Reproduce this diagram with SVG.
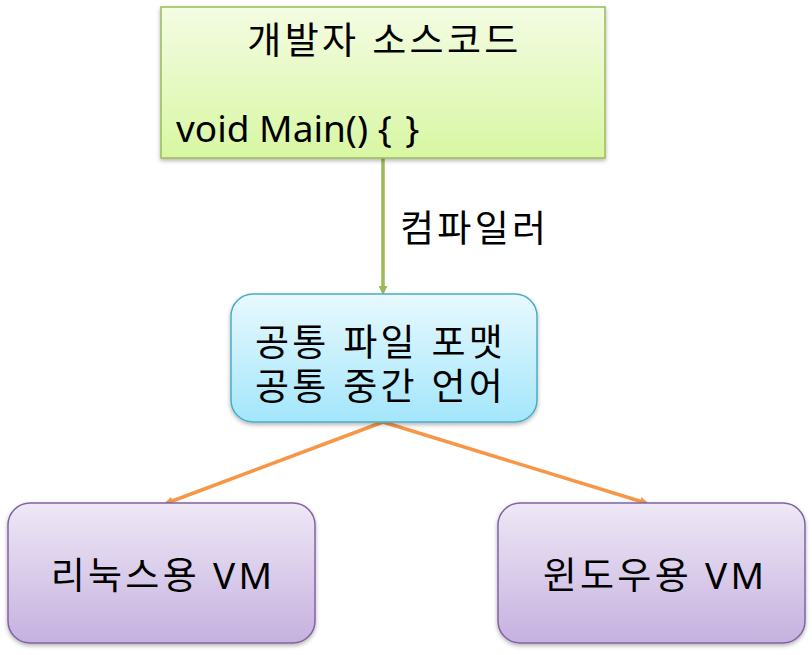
<svg xmlns="http://www.w3.org/2000/svg" width="812" height="655" viewBox="0 0 812 655">
<defs>
<linearGradient id="gGreen" x1="0" y1="0" x2="0" y2="1"><stop offset="0" stop-color="#f4fce3"/><stop offset="1" stop-color="#d8f7a3"/></linearGradient>
<linearGradient id="gBlue" x1="0" y1="0" x2="0" y2="1"><stop offset="0" stop-color="#e8f9fe"/><stop offset="1" stop-color="#a3e6fb"/></linearGradient>
<linearGradient id="gPurple" x1="0" y1="0" x2="0" y2="1"><stop offset="0" stop-color="#eee8f6"/><stop offset="1" stop-color="#c6b1df"/></linearGradient>
<filter id="sh" x="-10%" y="-10%" width="120%" height="130%"><feDropShadow dx="0" dy="2" stdDeviation="2" flood-color="#000" flood-opacity="0.3"/></filter>
<marker id="aGreen" markerWidth="9" markerHeight="9" refX="6" refY="4.5" orient="auto" markerUnits="userSpaceOnUse" viewBox="0 0 9 9"><path d="M0,0 L9,4.5 L0,9 Z" fill="#9bbb59"/></marker>
<marker id="aOrange" markerWidth="9" markerHeight="9" refX="6" refY="4.5" orient="auto" markerUnits="userSpaceOnUse" viewBox="0 0 9 9"><path d="M0,0 L9,4.5 L0,9 Z" fill="#f79646"/></marker>
</defs>
<style>
text { font-family: "Noto Sans", "Noto Sans CJK KR", sans-serif; font-size: 37px; fill: #000; }
.k { letter-spacing: 3.3px; }
.c { text-anchor: middle; }
.t { font-family: "Liberation Sans", "Noto Sans CJK KR", sans-serif; }
</style>
<g id="connectors">
<line x1="383" y1="158" x2="383" y2="292" stroke="#9bbb59" stroke-width="3.5" marker-end="url(#aGreen)"/>
<line x1="383" y1="422" x2="167" y2="503" stroke="#f79646" stroke-width="3.5" marker-end="url(#aOrange)"/>
<line x1="383" y1="422" x2="646" y2="503" stroke="#f79646" stroke-width="3.5" marker-end="url(#aOrange)"/>
<text class="k" x="400" y="242">컴파일러</text>
</g>
<g id="source">
<rect x="161" y="7" width="444" height="151" fill="url(#gGreen)" stroke="#9bbb59" stroke-width="1.5" filter="url(#sh)"/>
<text class="c k" x="384.5" y="54">개발자 소스코드</text>
<text x="176" y="142">void Main() {<tspan dx="4"> }</tspan></text>
</g>
<g id="cil">
<rect x="231" y="294" width="306" height="128" rx="22" fill="url(#gBlue)" stroke="#4bacc6" stroke-width="1.5" filter="url(#sh)"/>
<text class="k t" x="255" y="356">공통 파일 포맷</text>
<text class="k t" x="255" y="400">공통 중간 언어</text>
</g>
<g id="linux">
<rect x="8" y="503" width="307" height="140" rx="22" fill="url(#gPurple)" stroke="#8064a2" stroke-width="1.5" filter="url(#sh)"/>
<text class="c k" x="163" y="589">리눅스용 VM</text>
</g>
<g id="windows">
<rect x="498" y="503" width="307" height="140" rx="22" fill="url(#gPurple)" stroke="#8064a2" stroke-width="1.5" filter="url(#sh)"/>
<text class="c k" x="655" y="589">윈도우용 VM</text>
</g>
</svg>
